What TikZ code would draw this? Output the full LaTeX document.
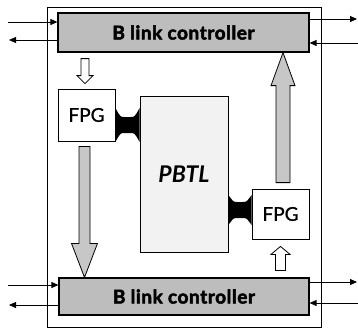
\documentclass[tikz,border=0pt]{standalone}
\usepackage{fontspec}
\setmainfont{Lato}
\newfontfamily\ctrlfont[BoldFeatures={FakeBold=2.5},LetterSpace=3]{Lato}
\newfontfamily\fpgfont[FakeBold=1]{Lato}
\usetikzlibrary{arrows.meta,calc}
\definecolor{ctrlgray}{gray}{0.74}
\definecolor{arrowgray}{gray}{0.78}
\definecolor{pbtlgray}{gray}{0.95}
\newcommand\vfat[6]{% style, from, tip, shaft half, head half, head length
  \path[#1] let \p1=(#2), \p2=(#3), \n1={sign(\y2-\y1)} in
   ({\x1-#4pt},\y1) -- ({\x1-#4pt},{\y2-\n1*#6pt}) -- ({\x1-#5pt},{\y2-\n1*#6pt})
   -- (\x1,\y2) -- ({\x1+#5pt},{\y2-\n1*#6pt}) -- ({\x1+#4pt},{\y2-\n1*#6pt})
   -- ({\x1+#4pt},\y1) -- cycle;}
\newcommand\bone[4]{% from, to, end half height, shaft half height
  \fill[link] let \p1=(#1), \p2=(#2) in
   (\x1,{\y1+#3pt}) .. controls ({\x1+5pt},{\y1+#4pt}) .. ({\x1+9pt},{\y1+#4pt})
   -- ({\x2-9pt},{\y1+#4pt}) .. controls ({\x2-5pt},{\y1+#4pt}) .. (\x2,{\y1+#3pt})
   -- (\x2,{\y1-#3pt}) .. controls ({\x2-5pt},{\y1-#4pt}) .. ({\x2-9pt},{\y1-#4pt})
   -- ({\x1+9pt},{\y1-#4pt}) .. controls ({\x1+5pt},{\y1-#4pt}) .. (\x1,{\y1-#3pt}) -- cycle;}
\begin{document}
\begin{tikzpicture}[x=1pt,y=-1pt,
  frame/.style={draw,line width=0.8pt,inner sep=0pt},
  ctrl/.style={draw,line width=1.2pt,fill=ctrlgray,inner sep=0pt,
    font=\ctrlfont\bfseries\fontsize{19}{21}\selectfont},
  fpg/.style={draw,line width=0.8pt,fill=white,inner sep=0pt,
    font=\fpgfont\fontsize{19}{22}\selectfont},
  pbtl/.style={draw,line width=0.8pt,fill=pbtlgray,inner sep=0pt,
    font=\bfseries\itshape\fontsize{23}{26}\selectfont},
  ext/.style={line width=0.8pt,-{Triangle[length=7pt,width=6pt]}},
  fat/.style={fill=arrowgray,draw=black,line width=0.8pt},
  hollow/.style={fill=white,draw=black,line width=0.8pt},
  link/.style={fill=black}]
\useasboundingbox (0,0) rectangle (358,329);
\node[frame,minimum width=274pt,minimum height=320pt] (outer) at (184,167) {};
\node[ctrl,minimum width=251pt,minimum height=39pt] (topc) at (183.5,32.5) {B link controller};
\node[ctrl,minimum width=250pt,minimum height=37pt] (botc) at (184,296.5) {B link controller};
\node[fpg,minimum width=57pt,minimum height=52pt] (fpgl) at (86.5,115) {FPG};
\node[fpg,minimum width=57pt,minimum height=50pt] (fpgr) at (280.5,214) {FPG};
\node[pbtl,minimum width=88pt,minimum height=156pt] (pbtlbox) at (184,174) {PBTL};
% external links
\coordinate (t1) at (8,22);
\coordinate (t2) at (9,40);
\coordinate (t3) at (357,19);
\coordinate (t4) at (358,43);
\coordinate (b1) at (8,285);
\coordinate (b2) at (9,305);
\coordinate (b3) at (357,282);
\coordinate (b4) at (358,303);
\draw[ext] (t1) -- (t1 -| topc.west);
\draw[ext] (t2 -| topc.west) -- (t2);
\draw[ext] (t3 -| topc.east) -- (t3);
\draw[ext] (t4) -- (t4 -| topc.east);
\draw[ext] (b1) -- (b1 -| botc.west);
\draw[ext] (b2 -| botc.west) -- (b2);
\draw[ext] (b3 -| botc.east) -- (b3);
\draw[ext] (b4) -- (b4 -| botc.east);
% fat gray arrows
\coordinate (ls) at ($(fpgl.south)+(-2,5)$);
\coordinate (lt) at (ls |- botc.north);
\vfat{fat}{ls}{lt}{5.5}{13}{34}
\coordinate (rs) at ($(fpgr.north)+(2.5,-6)$);
\coordinate (rt) at (rs |- topc.south);
\vfat{fat}{rs}{rt}{7}{12}{33}
% small hollow arrows
\coordinate (hs) at ($(topc.south -| fpgl.north)+(-1.5,6)$);
\coordinate (ht) at ($(fpgl.north)+(-1.5,-5)$);
\vfat{hollow}{hs}{ht}{4}{8}{8}
\coordinate (gs) at ($(botc.north -| fpgr.south)+(0,-7)$);
\coordinate (gt) at ($(fpgr.south)+(0,7)$);
\vfat{hollow}{gs}{gt}{5}{9.5}{8}
% black links
\coordinate (la) at ($(fpgl.east)+(0,10)$);
\coordinate (lb) at (la -| pbtlbox.west);
\bone{la}{lb}{17}{8}
\coordinate (rb) at ($(fpgr.west)+(0,-4)$);
\coordinate (ra) at (rb -| pbtlbox.east);
\bone{ra}{rb}{15}{8}
\end{tikzpicture}
\end{document}
